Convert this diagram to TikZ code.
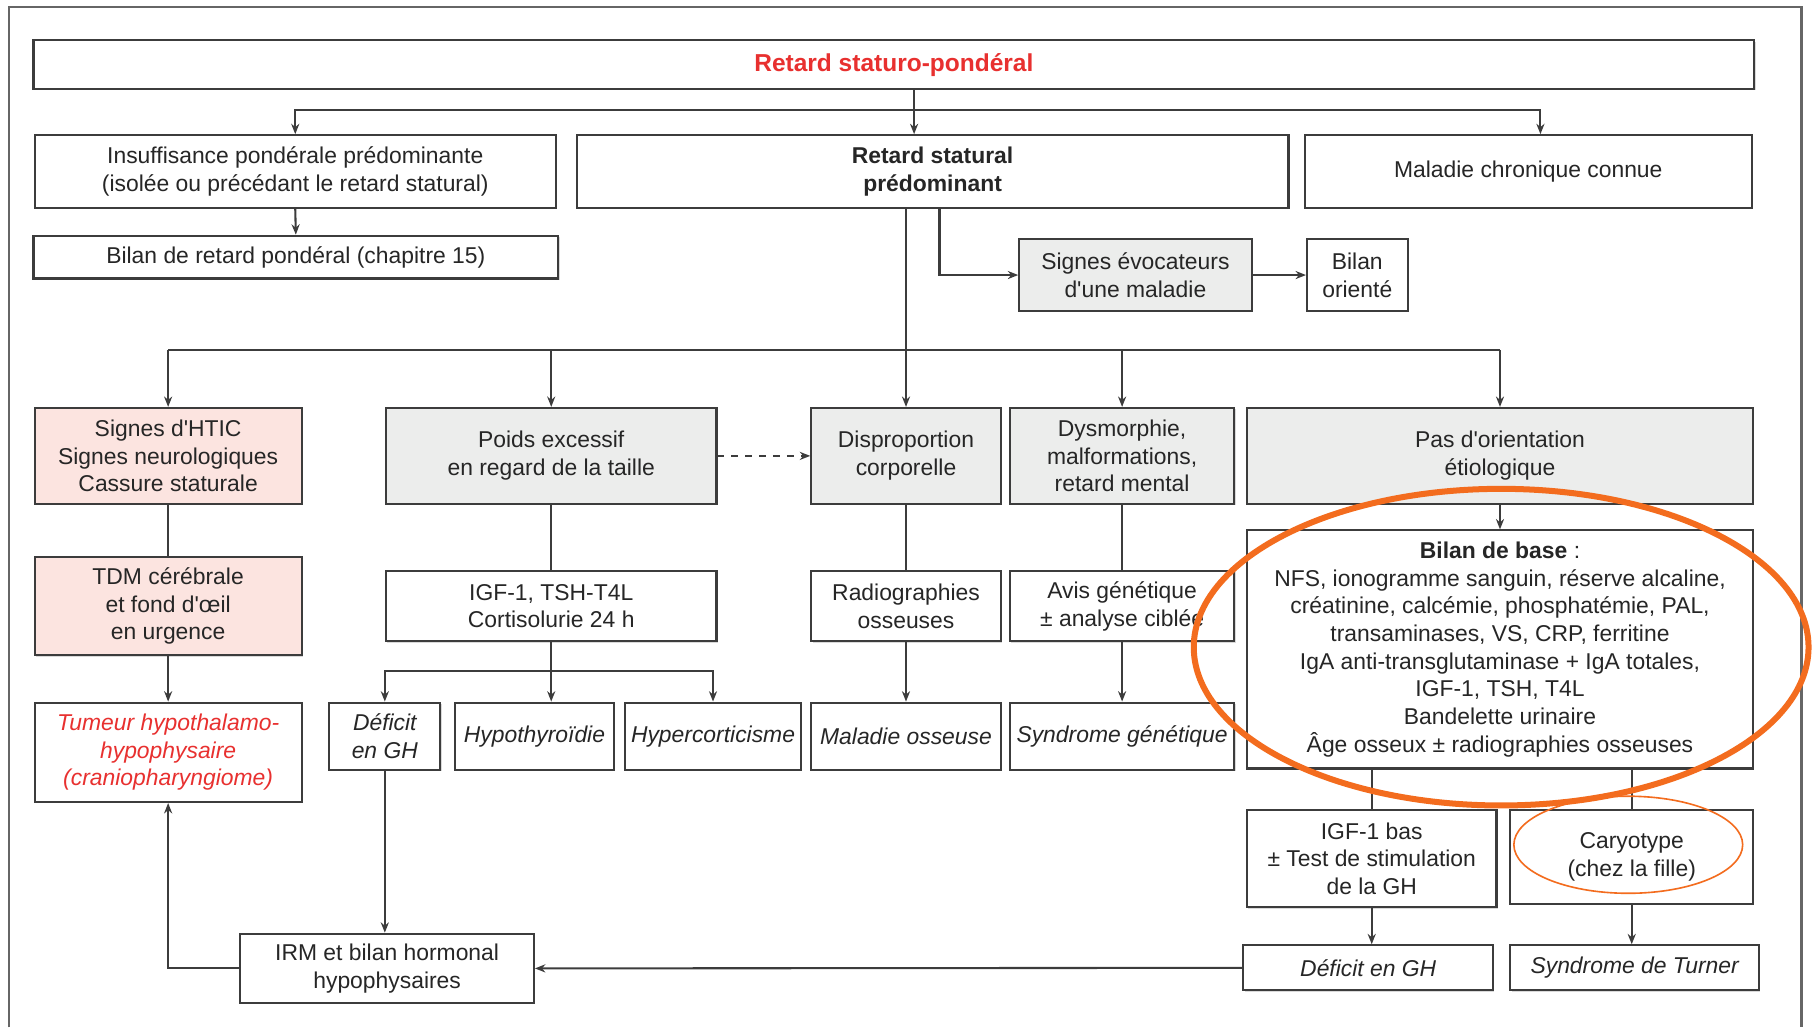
\documentclass[tikz,border=0pt]{standalone}
\usepackage{fontspec}
\setmainfont[Ligatures=TeXOff]{Liberation Sans}
\usetikzlibrary{arrows.meta,shadows}
\definecolor{titrerouge}{RGB}{232,48,47}
\definecolor{fondgris}{RGB}{236,237,236}
\definecolor{fondrose}{RGB}{252,228,224}
\definecolor{traitgris}{RGB}{60,60,60}
\definecolor{orangeann}{RGB}{243,108,30}
\tikzset{
  boite/.style={draw=traitgris,line width=0.9pt,fill=white,align=center,inner sep=1pt,
    font=\fontsize{9.9}{12}\selectfont,text=black!85,
    drop shadow={shadow xshift=0.6pt,shadow yshift=-0.6pt,fill=black!25,opacity=0.6}},
  grise/.style={boite,fill=fondgris},
  rose/.style={boite,fill=fondrose},
  ital/.style={boite,font=\fontsize{9.9}{12}\selectfont\itshape},
  fleche/.style={draw=traitgris,line width=0.9pt,-{Stealth[length=4.5pt,width=3.5pt]}},
  trait/.style={draw=traitgris,line width=0.9pt},
}
\begin{document}
\begin{tikzpicture}[x=0.5pt,y=-0.5pt]
\useasboundingbox (0,0) rectangle (1568,889);
% cadre
\draw[black!60,line width=1pt] (8,889) -- (8,6) -- (1559,6) -- (1559,889);

% niveau 1 et 2
\node[boite,minimum width=744.5pt,minimum height=21pt] (titre) at (773.5,56)
  {\fontsize{10.6}{12}\selectfont\textbf{\color{titrerouge}Retard staturo-pondéral}};
\node[boite,minimum width=225.5pt,minimum height=31.5pt] (insuf) at (255.5,148.5)
  {Insuffisance pondérale prédominante\\(isolée ou précédant le retard statural)};
\node[boite,minimum width=308pt,minimum height=31.5pt] (statural) at (807,148.5)
  {\textbf{Retard statural}\\\textbf{prédominant}};
\node[boite,minimum width=193.5pt,minimum height=31.5pt] (chronique) at (1322.5,148.5)
  {Maladie chronique connue};
\node[boite,minimum width=227pt,minimum height=18.5pt] (bilanpond) at (256,222.5)
  {Bilan de retard pondéral (chapitre 15)};
\node[grise,minimum width=100.5pt,minimum height=31pt] (signes) at (982.5,238)
  {Signes évocateurs\\d'une maladie};
\node[boite,minimum width=43.5pt,minimum height=31pt] (oriente) at (1174.5,238)
  {Bilan\\orienté};

% niveau 3
\node[rose,minimum width=115.5pt,minimum height=41.5pt] (htic) at (145.5,394.5)
  {Signes d'HTIC\\Signes neurologiques\\Cassure staturale};
\node[grise,minimum width=143pt,minimum height=41.5pt] (poids) at (477,394.5)
  {Poids excessif\\en regard de la taille};
\node[grise,minimum width=82pt,minimum height=41.5pt] (dispro) at (784,394.5)
  {Disproportion\\corporelle};
\node[grise,minimum width=97pt,minimum height=41.5pt] (dysmo) at (971,394.5)
  {Dysmorphie,\\malformations,\\retard mental};
\node[grise,minimum width=219pt,minimum height=41.5pt] (pasorient) at (1298,394.5)
  {Pas d'orientation\\étiologique};

% niveau 4
\node[rose,minimum width=115.5pt,minimum height=42.5pt] (tdm) at (145.5,524.5)
  {TDM cérébrale\\et fond d'œil\\en urgence};
\node[boite,minimum width=143pt,minimum height=30.5pt] (igf) at (477,524.5)
  {IGF-1, TSH-T4L\\Cortisolurie 24 h};
\node[boite,minimum width=82pt,minimum height=30.5pt] (radio) at (784,524.5)
  {Radiographies\\osseuses};
\node[boite,minimum width=97pt,minimum height=30.5pt] (avis) at (971,524.5)
  {Avis génétique\\± analyse ciblée};
\node[boite,minimum width=219pt,minimum height=103pt] (base) at (1298,562)
  {\textbf{Bilan de base} :\\NFS, ionogramme sanguin, réserve alcaline,\\créatinine, calcémie, phosphatémie, PAL,\\transaminases, VS, CRP, ferritine\\IgA anti-transglutaminase + IgA totales,\\IGF-1, TSH, T4L\\Bandelette urinaire\\Âge osseux ± radiographies osseuses};

% niveau 5
\node[ital,minimum width=115.5pt,minimum height=43pt,text=titrerouge] (tumeur) at (145.5,651)
  {Tumeur hypothalamo-\\hypophysaire\\(craniopharyngiome)};
\node[ital,minimum width=48pt,minimum height=29pt] (defgh) at (333,637)
  {Déficit\\en GH};
\node[ital,minimum width=68.5pt,minimum height=29pt] (hypothy) at (462.5,637)
  {Hypothyroïdie};
\node[ital,minimum width=76pt,minimum height=29pt] (hypercort) at (617,637)
  {Hypercorticisme};
\node[ital,minimum width=82pt,minimum height=29pt] (malos) at (784,637)
  {Maladie osseuse};
\node[ital,minimum width=97pt,minimum height=29pt] (syngen) at (971,637)
  {Syndrome génétique};

% niveau 6 et 7
\node[boite,minimum width=108pt,minimum height=42pt] (igfbas) at (1187,743)
  {IGF-1 bas\\± Test de stimulation\\de la GH};
\node[boite,minimum width=105pt,minimum height=40.5pt] (caryo) at (1412,741.5)
  {Caryotype\\(chez la fille)};
\node[boite,minimum width=127pt,minimum height=30pt] (irm) at (335,838)
  {IRM et bilan hormonal\\hypophysaires};
\node[ital,minimum width=108pt,minimum height=19.5pt] (defgh2) at (1184,837.5)
  {Déficit en GH};
\node[ital,minimum width=107.5pt,minimum height=19.5pt] (turner) at (1414.5,837.5)
  {Syndrome de Turner};

% connexions du haut
\coordinate (t0) at (791,95);
\coordinate (t1) at (1333,95);
\draw[trait] (titre.south -| t0) -- (t0);
\draw[fleche] (t0) -| (insuf.north);
\draw[fleche] (t0) -- (t0 |- statural.north);
\draw[fleche] (t0) -- (t1) -- (t1 |- chronique.north);
\draw[fleche] (insuf.south) -- (bilanpond.north);
\coordinate (s1) at (813,180);
\draw[fleche] (s1) |- (signes.west);
\draw[fleche] (signes.east) -- (oriente.west);

% bus du milieu
\coordinate (bus) at (784,303);
\draw[trait] (statural.south -| bus) -- (bus);
\draw[trait] (bus -| htic.north) -- (bus -| pasorient.north);
\foreach \n in {htic,poids,dispro,dysmo,pasorient}
  \draw[fleche] (bus -| \n.north) -- (\n.north);
\draw[fleche,dashed] (poids.east) -- (dispro.west);

% colonnes
\draw[trait] (htic.south) -- (tdm.north);
\draw[fleche] (tdm.south) -- (tumeur.north);
\draw[trait] (poids.south) -- (igf.north);
\coordinate (b2) at (477,581);
\draw[trait] (igf.south) -- (b2);
\draw[fleche] (b2) -| (defgh.north);
\draw[fleche] (b2) -- (b2 |- hypothy.north);
\draw[fleche] (b2) -| (hypercort.north);
\draw[trait] (dispro.south) -- (radio.north);
\draw[fleche] (radio.south) -- (malos.north);
\draw[trait] (dysmo.south) -- (avis.north);
\draw[fleche] (avis.south) -- (syngen.north);
\draw[fleche] (pasorient.south) -- (base.north);
\draw[trait] (base.south -| igfbas.north) -- (igfbas.north);
\draw[trait] (base.south -| caryo.north) -- (caryo.north);
\draw[fleche] (igfbas.south) -- (igfbas.south |- defgh2.north);
\draw[fleche] (caryo.south) -- (caryo.south |- turner.north);

% retour vers l'IRM
\draw[fleche] (defgh2.west) -- (irm.east);
\draw[fleche] (defgh.south) -- (defgh.south |- irm.north);
\draw[fleche] (irm.west) -| (tumeur.south);

% annotations
\draw[orangeann,line width=2.6pt] (1299,560) ellipse [x radius=266,y radius=137];
\draw[orangeann,line width=0.7pt] (1409,731) ellipse [x radius=99,y radius=42];
\end{tikzpicture}
\end{document}
